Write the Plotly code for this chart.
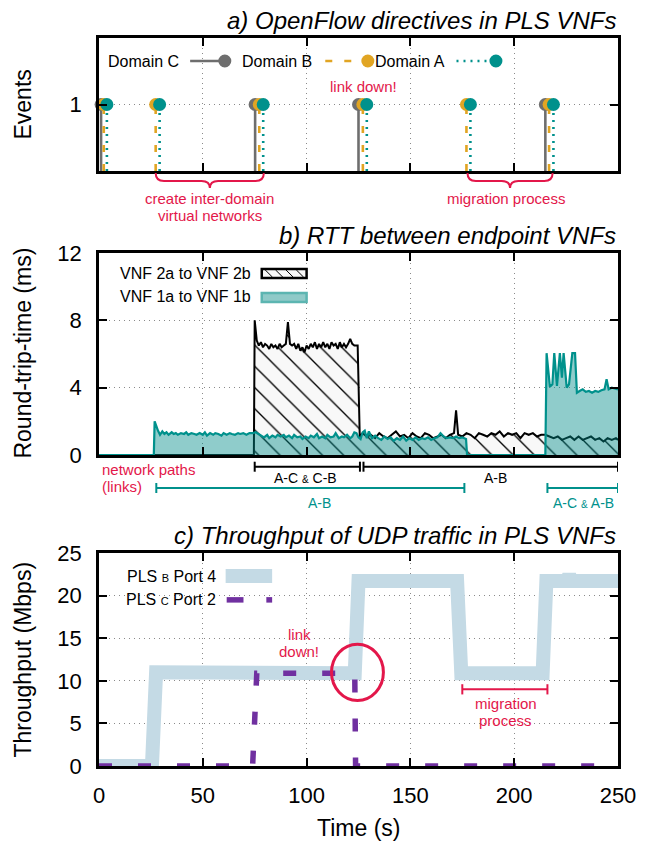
import plotly.graph_objects as go

# ---------------- data ----------------
time_ticks = [0, 50, 100, 150, 200, 250]

# a) OpenFlow directive events (time in s)
domain_c_events = [1.0, 75.2, 125.0, 215.0]
domain_b_events = [2.3, 27.3, 77.2, 127.1, 177.0, 216.8]
domain_a_events = [3.8, 29.2, 79.1, 129.0, 178.9, 218.9]

# b) RTT (time s, RTT ms)
vnf2_samples = [
    (0, 0), (74.6, 0), (75.0, 8.0), (76, 6.8), (77, 6.5), (78, 6.7), (79, 6.4), (80, 6.6), (81, 6.5), (82, 6.3),
    (83, 6.6), (84, 6.4), (85, 6.5), (86, 6.3), (87, 6.6), (88, 6.4), (89, 6.5), (90, 6.6), (91, 7.9), (92, 6.6),
    (93, 6.5), (94, 6.6), (95, 6.3), (96, 6.6), (97, 6.2), (98, 6.4), (99, 6.1), (100, 6.5), (101, 6.3), (102, 6.6),
    (103, 6.4), (104, 6.7), (105, 6.3), (106, 6.6), (107, 6.4), (108, 6.7), (109, 6.4), (110, 6.6), (111, 6.3), (112, 6.7),
    (113, 6.5), (114, 6.6), (115, 6.3), (116, 6.7), (117, 6.4), (118, 6.6), (119, 6.4), (120, 6.6), (121, 6.9), (122, 6.6),
    (123, 6.5), (124.6, 6.5), (125.6, 1.1), (127, 1.3), (129, 1.1), (131, 1.2), (133, 1.0), (135, 1.3), (137, 1.1), (139, 1.0),
    (141, 1.2), (143, 1.4), (145, 1.1), (147, 1.2), (149, 1.0), (151, 1.3), (153, 1.1), (155, 1.0), (157, 1.3), (159, 1.2),
    (161, 1.0), (163, 1.1), (165, 1.2), (167, 1.0), (169, 1.2), (171, 1.3), (172, 2.65), (173, 1.2), (175, 1.1), (177, 1.3),
    (179, 1.2), (181, 1.0), (183, 1.3), (185, 1.2), (187, 1.1), (189, 1.3), (191, 1.2), (193, 1.4), (195, 1.1), (197, 1.3),
    (199, 1.2), (201, 1.3), (203, 1.0), (205, 1.3), (207, 1.2), (209, 1.3), (211, 1.1), (213, 1.2), (215, 1.2), (217, 1.1),
    (219, 1.0), (221, 1.1), (223, 0.9), (225, 1.0), (227, 1.1), (229, 0.9), (231, 1.1), (233, 0.9), (235, 1.0), (237, 1.1),
    (239, 0.9), (241, 1.0), (243, 0.8), (245, 1.0), (247, 0.9), (249, 1.0), (250, 0.9),
]
vnf1_samples = [
    (0, 0), (26.4, 0), (26.8, 2.0), (27.6, 1.65), (28.4, 1.45), (29.4, 1.2), (30.5, 1.4), (31.5, 1.25), (32.5, 1.35), (33.5, 1.2),
    (35, 1.35), (36, 1.25), (37, 1.3), (38, 1.2), (39.5, 1.3), (41, 1.25), (42, 1.35), (43, 1.2), (44.5, 1.3), (46, 1.25),
    (47, 1.2), (48.5, 1.3), (50, 1.2), (51, 1.35), (52, 1.15), (53.5, 1.3), (55, 1.2), (56, 1.3), (57.5, 1.25), (59, 1.15),
    (60, 1.3), (61.5, 1.2), (63, 1.3), (64, 1.25), (65.5, 1.2), (67, 1.3), (68, 1.25), (69.5, 1.3), (71, 1.2), (72.5, 1.3),
    (74, 1.3), (75.5, 1.35), (77, 1.25), (78, 1.15), (79.5, 1.05), (81, 1.2), (82, 1.0), (83.5, 1.15), (85, 1.05), (86, 1.2),
    (87.5, 1.1), (89, 1.2), (90, 1.05), (91.5, 1.15), (93, 1.0), (94, 1.2), (95.5, 1.05), (97, 1.1), (98, 0.95), (99.5, 1.1),
    (101, 1.0), (102, 1.15), (103.5, 1.05), (105, 1.25), (106, 1.0), (107.5, 1.1), (109, 1.0), (110, 1.2), (111.5, 1.05), (113, 1.1),
    (114, 1.3), (115.5, 1.0), (117, 1.1), (118, 1.05), (119.5, 1.2), (121, 1.0), (122, 1.1), (123, 1.35), (124, 1.3), (125, 1.05),
    (126, 0.95), (127, 1.35), (128, 1.45), (129, 1.0), (130, 1.4), (131.5, 1.0), (133, 1.15), (134.5, 1.0), (136, 0.9), (137.5, 1.1),
    (139, 0.95), (140.5, 1.05), (142, 0.85), (143.5, 1.0), (145, 0.9), (146.5, 1.1), (148, 0.85), (149.5, 1.0), (151, 0.9), (152.5, 1.05),
    (154, 0.9), (155.5, 1.0), (157, 0.95), (158.5, 1.05), (160, 0.9), (161.5, 1.0), (163, 1.05), (164.5, 1.3), (166, 1.1), (167.5, 1.0),
    (169, 1.05), (170.5, 1.0), (172, 1.1), (173.5, 1.0), (175, 1.05), (176.8, 0.95), (177.3, 0), (215.0, 0), (215.6, 6.05), (217.2, 4.05),
    (218.4, 4.2), (219.3, 6.05), (220.6, 4.1), (222.0, 6.05), (223.0, 4.6), (223.8, 6.05), (225.3, 4.0), (226.4, 4.2), (228.0, 6.05), (229.3, 6.05),
    (230.2, 3.7), (231.5, 3.8), (233, 3.9), (234.5, 3.75), (236, 3.8), (237.5, 3.7), (239, 3.8), (240.5, 3.75), (242, 3.85), (243.5, 3.9),
    (244.5, 4.5), (245.5, 3.9), (247, 4.0), (248.5, 3.95), (250, 3.9),
]
vnf2_t = [p[0] for p in vnf2_samples]
vnf2_rtt = [p[1] for p in vnf2_samples]
vnf1_t = [p[0] for p in vnf1_samples]
vnf1_rtt = [p[1] for p in vnf1_samples]

# c) Throughput (time s, Mbps)
pls_b_t = [0, 25.5, 27.5, 60, 100, 123.2, 125, 150, 172.5, 174.5, 196.5, 197.5, 198.5, 213.7, 215.5, 225.5, 226.5, 227.5, 250]
pls_b_mbps = [0, 0, 11.0, 10.9, 10.9, 10.9, 21.7, 21.7, 21.7, 10.9, 10.9, 11.3, 10.9, 10.9, 21.7, 21.7, 22.4, 21.7, 21.7]
pls_c_t = [0, 74, 76, 123.2, 123.6, 250]
pls_c_mbps = [0, 0, 10.9, 10.9, 0, 0]

# ---------------- style ----------------
FONT = "Liberation Sans, Arial, Helvetica, sans-serif"
GRAY = "#6e6e6e"
GOLD = "#e1a523"
TEAL = "#00918c"
RED = "#e3174a"
LBLUE = "#c4dae5"
PURPLE = "#7030a0"

W, H = 648, 841
ML, MR, MT, MB = 99, 23, 38, 75
PH = H - MT - MB


def py(px):
    return (H - MB - px) / PH


def stems(ts):
    xs, ys = [], []
    for t in ts:
        xs += [t, t, None]
        ys += [0, 1, None]
    return xs, ys


fig = go.Figure()

# ---- panel a ----
for ev, col, dash in [(domain_c_events, GRAY, "solid"),
                      (domain_b_events, GOLD, "7px,12px"),
                      (domain_a_events, TEAL, "2px,5px")]:
    xs, ys = stems(ev)
    fig.add_trace(go.Scatter(x=xs, y=ys, mode="lines", line=dict(color=col, width=2.6, dash=dash),
                             xaxis="x", yaxis="y", showlegend=False, hoverinfo="skip"))
for ev, col in [(domain_c_events, GRAY), (domain_b_events, GOLD), (domain_a_events, TEAL)]:
    fig.add_trace(go.Scatter(x=ev, y=[1] * len(ev), mode="markers",
                             marker=dict(color=col, size=13, line=dict(width=0)),
                             xaxis="x", yaxis="y", showlegend=False, cliponaxis=False))

# ---- panel b ----
fig.add_trace(go.Scatter(x=vnf2_t, y=vnf2_rtt, mode="lines", line=dict(color="black", width=2),
                         fill="tozeroy", fillcolor="#f8f8f8",
                         fillpattern=dict(shape="\\", size=15, solidity=0.09, fgcolor="#000000",
                                          fgopacity=1, bgcolor="#f8f8f8", fillmode="replace"),
                         xaxis="x2", yaxis="y2", showlegend=False))
fig.add_trace(go.Scatter(x=vnf1_t, y=vnf1_rtt, mode="lines", line=dict(color=TEAL, width=2.2),
                         fill="tozeroy", fillcolor="rgba(0,140,136,0.44)",
                         xaxis="x2", yaxis="y2", showlegend=False))

# ---- panel c ----
fig.add_trace(go.Scatter(x=pls_b_t, y=pls_b_mbps, mode="lines", line=dict(color=LBLUE, width=14),
                         xaxis="x3", yaxis="y3", showlegend=False, cliponaxis=False))
fig.add_trace(go.Scatter(x=pls_c_t, y=pls_c_mbps, mode="lines", line=dict(color=PURPLE, width=5.5, dash="13px,26px"),
                         xaxis="x3", yaxis="y3", showlegend=False, cliponaxis=False))

# ---------------- axes ----------------
grid = dict(showgrid=True, gridcolor="#8a8a8a", gridwidth=1.2, griddash="1px,4px", zeroline=False,
            ticks="inside", ticklen=8, tickwidth=2, tickcolor="black",
            showline=True, linewidth=2.5, linecolor="black", mirror="ticks",
            tickfont=dict(family=FONT, size=22, color="black"))


def xax(anchor, labels):
    d = dict(grid)
    d.update(domain=[0, 1], anchor=anchor, range=[0, 250], tickvals=time_ticks, showticklabels=labels,
             ticklabelstandoff=8)
    return d


def yax(anchor, dom, rng, tv):
    d = dict(grid)
    d.update(domain=dom, anchor=anchor, range=rng, tickvals=tv, ticklabelstandoff=10)
    return d


fig.update_layout(
    width=W, height=H, margin=dict(l=ML, r=MR, t=MT, b=MB),
    paper_bgcolor="white", plot_bgcolor="white",
    font=dict(family=FONT, color="black"),
    xaxis=xax("y", False), yaxis=yax("x", [py(171), 1.0], [0, 2], [1]),
    xaxis2=xax("y2", False), yaxis2=yax("x2", [py(455), py(253)], [0, 12], [0, 4, 8, 12]),
    xaxis3=xax("y3", True), yaxis3=yax("x3", [0, py(553)], [0, 25], [0, 5, 10, 15, 20, 25]),
)

ann = []
shapes = []


def text(x, y, s, size=16, color="black", xanchor="center", xref="x", yref="y", italic=False, angle=0):
    ann.append(dict(x=x, y=y, xref=xref, yref=yref, text=s, showarrow=False, xanchor=xanchor, yanchor="middle",
                    textangle=angle,
                    font=dict(family=FONT, size=size, color=color, style="italic" if italic else "normal")))


# titles
text(1.0, py(20), "a) OpenFlow directives in PLS VNFs", 24, xanchor="right", xref="paper", yref="paper", italic=True)
text(1.0, py(235), "b) RTT between endpoint VNFs", 24, xanchor="right", xref="paper", yref="paper", italic=True)
text(1.0, py(535), "c) Throughput of UDP traffic in PLS VNFs", 24, xanchor="right", xref="paper", yref="paper", italic=True)

# axis titles
axx = (21 - ML) / (W - ML - MR)
text(axx, py(104.5), "Events", 23, xref="paper", yref="paper", angle=-90)
text(axx, py(353.5), "Round-trip-time (ms)", 23, xref="paper", yref="paper", angle=-90)
text(axx, py(659.5), "Throughput (Mbps)", 23, xref="paper", yref="paper", angle=-90)
text(0.5, py(828), "Time (s)", 23, xref="paper", yref="paper")

# ---- panel a legend ----
leg_y = 1.654
for label, xr, x0, x1, col, dash in [("Domain C", 39.7, 43.9, 60.6, GRAY, "solid"),
                                     ("Domain B", 103.8, 109.0, 129.5, GOLD, "7px,12px"),
                                     ("Domain A", 167.5, 172.2, 191.2, TEAL, "2px,5px")]:
    text(xr, leg_y, label, 16, xanchor="right")
    shapes.append(dict(type="line", xref="x", yref="y", x0=x0, x1=x1, y0=leg_y, y1=leg_y,
                       line=dict(color=col, width=2.6, dash=dash)))
    shapes.append(dict(type="circle", xref="x", yref="y", xsizemode="pixel", ysizemode="pixel",
                       xanchor=x1, yanchor=leg_y, x0=-6.5, x1=6.5, y0=-6.5, y1=6.5,
                       fillcolor=col, line=dict(width=0)))
text(127.6, 1.278, "link down!", 15, RED)


def brace(a, b, c):
    yt, ym, ytip = py(173), py(181), py(188)
    d = 4
    path = (f"M {a},{yt} Q {a},{ym} {a + d},{ym} L {c - d},{ym} Q {c},{ym} {c},{ytip} "
            f"Q {c},{ym} {c + d},{ym} L {b - d},{ym} Q {b},{ym} {b},{yt}")
    shapes.append(dict(type="path", xref="x", yref="paper", path=path, line=dict(color=RED, width=2)))


brace(27.3, 79.4, 53.4)
brace(177.5, 218.5, 198.0)
text(53.4, py(198), "create inter-domain", 15, RED, yref="paper")
text(53.4, py(215), "virtual networks", 15, RED, yref="paper")
text(196.0, py(198), "migration process", 15, RED, yref="paper")

# ---- panel b legend ----
for label, ytxt in [("VNF 2a to VNF 2b", 10.81), ("VNF 1a to VNF 1b", 9.39)]:
    text(74.0, ytxt, label, 16, xref="x2", yref="y2", xanchor="right")
shapes.append(dict(type="rect", xref="x2", yref="y2", x0=78.4, x1=100, y0=10.51, y1=11.05,
                   fillcolor="#f8f8f8", line=dict(color="black", width=2.5)))
for k in range(4):
    xs0 = 80.0 + k * 5.0
    shapes.append(dict(type="line", xref="x2", yref="y2", x0=xs0, x1=xs0 + 3.6, y0=11.0, y1=10.56,
                       line=dict(color="black", width=1)))
shapes.append(dict(type="rect", xref="x2", yref="y2", x0=78.4, x1=100, y0=9.09, y1=9.63,
                   fillcolor="#8fcac8", line=dict(color="#5cb5b1", width=2.5)))


# ---- network path bars under panel b ----
def bar(a, b, ypx, col):
    y = py(ypx)
    h = 5 / PH
    shapes.append(dict(type="line", xref="x2", yref="paper", x0=a, x1=b, y0=y, y1=y, line=dict(color=col, width=2)))
    for xe in (a, b):
        shapes.append(dict(type="line", xref="x2", yref="paper", x0=xe, x1=xe, y0=y - h, y1=y + h,
                           line=dict(color=col, width=2)))


bar(75.0, 125.7, 466.7, "black")
bar(127.4, 250, 466.7, "black")
bar(27.6, 176.0, 488, TEAL)
bar(216.0, 250, 488, TEAL)
text(0.3, py(469), "network paths", 15, RED, xanchor="left", xref="x2", yref="paper")
text(0.3, py(486), "(links)", 15, RED, xanchor="left", xref="x2", yref="paper")
text(99.6, py(478), "A-C <span style='font-size:10px'>&amp;</span> C-B", 14, "black", xref="x2", yref="paper")
text(191.0, py(478), "A-B", 14, "black", xref="x2", yref="paper")
text(106.0, py(503), "A-B", 14, TEAL, xref="x2", yref="paper")
text(233.5, py(503), "A-C <span style='font-size:10px'>&amp;</span> A-B", 14, TEAL, xref="x2", yref="paper")

# ---- panel c legend ----
text(57.2, 22.3, "PLS <span style='font-size:11px'>B</span> Port 4", 16, xref="x3", yref="y3", xanchor="right")
text(57.2, 19.5, "PLS <span style='font-size:11px'>C</span> Port 2", 16, xref="x3", yref="y3", xanchor="right")
shapes.append(dict(type="line", xref="x3", yref="y3", x0=61.0, x1=83.4, y0=22.3, y1=22.3,
                   line=dict(color=LBLUE, width=14)))
shapes.append(dict(type="line", xref="x3", yref="y3", x0=61.5, x1=69.6, y0=19.5, y1=19.5,
                   line=dict(color=PURPLE, width=5.5)))
shapes.append(dict(type="line", xref="x3", yref="y3", x0=80.6, x1=83.4, y0=19.5, y1=19.5,
                   line=dict(color=PURPLE, width=5.5)))

# ---- panel c annotations ----
text(96.5, 15.4, "link", 15, RED, xref="x3", yref="y3")
text(96.5, 13.4, "down!", 15, RED, xref="x3", yref="y3")
shapes.append(dict(type="circle", xref="x3", yref="y3", x0=112, x1=137, y0=7.7, y1=14.3,
                   line=dict(color=RED, width=3)))
shapes.append(dict(type="line", xref="x3", yref="y3", x0=175, x1=216, y0=9.0, y1=9.0, line=dict(color=RED, width=2)))
for xe in (175, 216):
    shapes.append(dict(type="line", xref="x3", yref="y3", x0=xe, x1=xe, y0=8.4, y1=9.6, line=dict(color=RED, width=2)))
text(196.0, 7.3, "migration", 15, RED, xref="x3", yref="y3")
text(196.0, 5.3, "process", 15, RED, xref="x3", yref="y3")

fig.update_layout(annotations=ann, shapes=shapes)
fig.write_html("out.html", config={"displayModeBar": False},
               post_script="document.body.style.margin='0';document.body.style.padding='0';")
